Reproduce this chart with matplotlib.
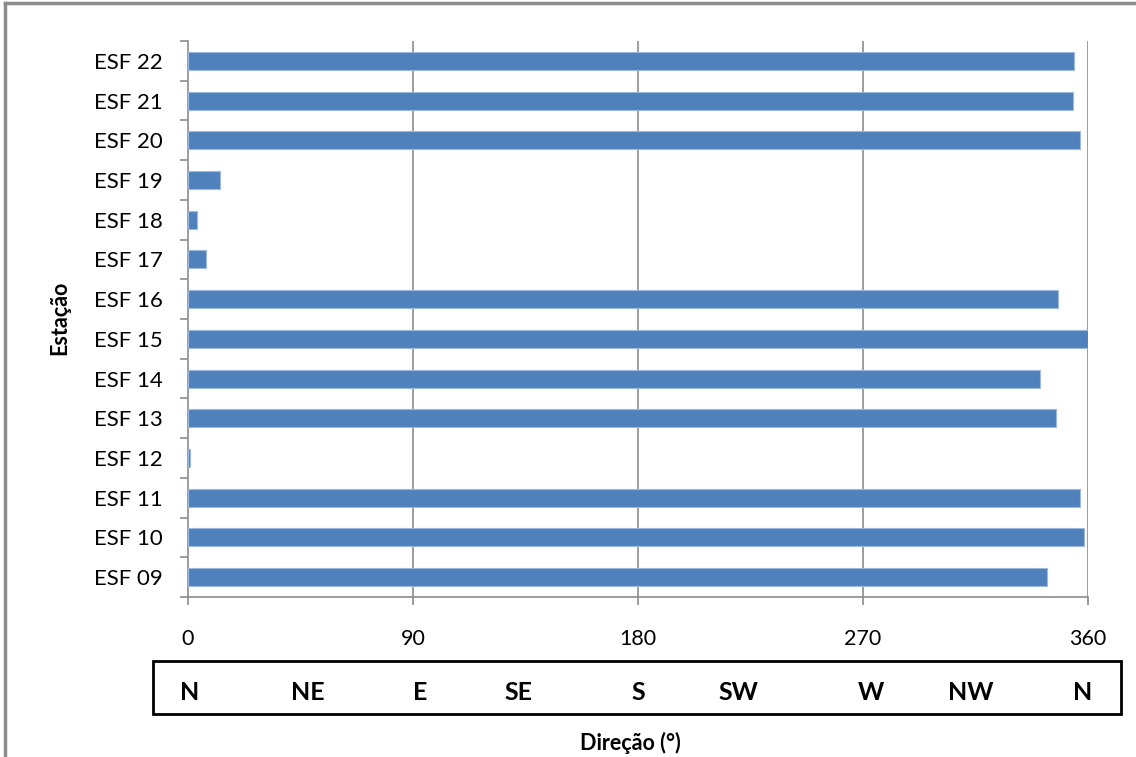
import matplotlib
matplotlib.use("Agg")
import matplotlib.pyplot as plt
from matplotlib.patches import Rectangle
from matplotlib.lines import Line2D

plt.rcParams['font.family'] = ['Lato', 'DejaVu Sans']

# Wind direction per station (degrees)
stations = ["ESF 09", "ESF 10", "ESF 11", "ESF 12", "ESF 13", "ESF 14", "ESF 15",
            "ESF 16", "ESF 17", "ESF 18", "ESF 19", "ESF 20", "ESF 21", "ESF 22"]
direction = [343.6, 358.4, 356.8, 0.8, 347.2, 340.8, 360.0,
             348.0, 7.2, 3.6, 12.8, 356.8, 354.0, 354.4]

x_ticks = [0, 90, 180, 270, 360]
compass_labels = ["N", "NE", "E", "SE", "S", "SW", "W", "NW", "N"]
compass_pos = [0.8, 48, 93, 132, 180, 220, 273, 313, 358]

W, H = 1136, 757
fig = plt.figure(figsize=(W / 100, H / 100), dpi=100)

ax_l, ax_r, ax_t, ax_b = 188, 1088, 41, 597
ax = fig.add_axes([ax_l / W, 1 - ax_b / H, (ax_r - ax_l) / W, (ax_b - ax_t) / H])

ypos = list(range(len(stations)))
ax.barh(ypos, direction, height=0.45, color="#4F81BD", edgecolor="#9DB9DE",
        linewidth=0.8, zorder=3)

ax.set_xlim(0, 360)
ax.set_ylim(-0.5, len(stations) - 0.5)
ax.set_xticks(x_ticks)
ax.set_xticklabels([str(v) for v in x_ticks], fontsize=15.5)
ax.set_yticks(ypos)
ax.set_yticklabels(stations, fontsize=16)
ax.set_yticks([i - 0.5 for i in range(len(stations) + 1)], minor=True)

ax.tick_params(axis='y', which='major', length=0, pad=18)
ax.tick_params(axis='y', which='minor', length=6, color="#8C8C8C", width=1.2)
ax.tick_params(axis='x', which='major', length=6, color="#8C8C8C", width=1.2, pad=17)

for v in x_ticks[1:]:
    ax.axvline(v, color="#8C8C8C", linewidth=1.2, zorder=1)

for side in ["top", "right"]:
    ax.spines[side].set_visible(False)
for side in ["left", "bottom"]:
    ax.spines[side].set_color("#8C8C8C")
    ax.spines[side].set_linewidth(1.2)

# Compass direction strip under the axis
bx0, bx1, by0, by1 = 153, 1121, 661, 714
fig.add_artist(Rectangle((bx0 / W, 1 - by1 / H), (bx1 - bx0) / W, (by1 - by0) / H,
                         transform=fig.transFigure, fill=False, edgecolor="black",
                         linewidth=2))
for lab, pos in zip(compass_labels, compass_pos):
    xfig = (ax_l + pos / 360 * (ax_r - ax_l)) / W
    fig.text(xfig, 1 - 692 / H, lab, ha="center", va="center",
             fontsize=18, fontweight="bold")

fig.text(630 / W, 1 - 743 / H, "Direção (°)", ha="center", va="center",
         fontsize=15.5, fontweight="bold")
fig.text(60 / W, 1 - 318 / H, "Estação", ha="center", va="center",
         fontsize=15.5, fontweight="bold", rotation=90)

# Outer frame (left and top edges)
fig.add_artist(Line2D([5 / W, 5 / W], [0, 1 - 3 / H], transform=fig.transFigure,
                      color="#8C8C8C", linewidth=2.5))
fig.add_artist(Line2D([5 / W, 1], [1 - 3 / H, 1 - 3 / H], transform=fig.transFigure,
                      color="#8C8C8C", linewidth=2.5))

fig.savefig("out.png", dpi=100, facecolor="white")
